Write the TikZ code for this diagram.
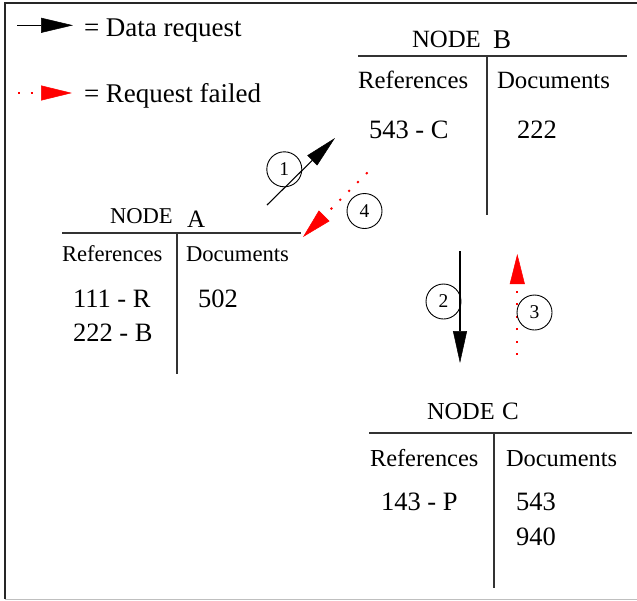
\documentclass[tikz,border=0pt]{standalone}
\usepackage{fontspec}
\setmainfont{Liberation Serif}
\usetikzlibrary{arrows.meta}
\begin{document}
\begin{tikzpicture}[x=1pt,y=-1pt,
  txt/.style={anchor=base west, inner sep=0pt, outer sep=0pt},
  legendtxt/.style={txt, font=\fontsize{27}{32}\selectfont},
  datatxt/.style={txt, font=\fontsize{26.5}{30}\selectfont},
  headA/.style={txt, font=\fontsize{22.6}{27}\selectfont},
  headB/.style={txt, font=\fontsize{24.8}{29}\selectfont},
  headC/.style={txt, font=\fontsize{24.4}{29}\selectfont},
  tableline/.style={line width=1.3pt, black!80},
  numcircle/.style={circle, draw, line width=0.9pt, minimum size=35pt, inner sep=0pt, font=\fontsize{19.5}{22}\selectfont},
  reqarrow/.style={line width=1.1pt, -{Triangle[length=32pt,width=14pt,line width=0.5pt]}},
  failarrow/.style={red, line width=2pt, dash pattern=on 2pt off 10.5pt, -{Triangle[length=30pt,width=15pt,line width=0.5pt]}},
  legarrow/.style={line width=1.1pt, -{Triangle[length=32pt,width=15pt,line width=0.5pt]}},
  legfail/.style={red, line width=2pt, dash pattern=on 2pt off 10.5pt, -{Triangle[length=31pt,width=15pt,line width=0.5pt]}}]
\useasboundingbox (0,0) rectangle (637,600);
% frame
\draw[line width=2pt, black!85] (637,2.5) -- (5,2.5) -- (5,599);
\draw[line width=1.5pt, black!25] (5,599.3) -- (637,599.3);

% legend
\coordinate (l1s) at (17,25.3);
\coordinate (l1e) at (73,25.3);
\draw[legarrow] (l1s) -- (l1e);
\node[legendtxt] (leg1) at (84,36) {= Data request};
\coordinate (l2s) at (18,93);
\coordinate (l2e) at (72,93);
\draw[legfail] (l2s) -- (l2e);
\node[legendtxt] (leg2) at (84,102) {= Request failed};

% NODE B
\node[headB] (nbname) at (412,47) {NODE};
\node[txt, font=\fontsize{27}{30}\selectfont] (nbletter) at (493,48) {B};
\coordinate (bh1) at (358,56);
\coordinate (bh2) at (627,56);
\coordinate (bv1) at (487,56);
\coordinate (bv2) at (487,215);
\draw[tableline] (bh1) -- (bh2);
\draw[tableline] (bv1) -- (bv2);
\node[headB] (bref) at (358,88) {References};
\node[headB] (bdoc) at (497,88) {Documents};
\node[datatxt] (bref1) at (369,138) {543 - C};
\node[datatxt] (bdoc1) at (517,138) {222};

% NODE A
\node[headA] (naname) at (110,223) {NODE};
\node[txt, font=\fontsize{25}{28}\selectfont] (naletter) at (187,227) {A};
\coordinate (ah1) at (62,233);
\coordinate (ah2) at (301,233);
\coordinate (av1) at (177,233);
\coordinate (av2) at (177,374);
\draw[tableline] (ah1) -- (ah2);
\draw[tableline] (av1) -- (av2);
\node[headA] (aref) at (62,261) {References};
\node[headA] (adoc) at (186,261) {Documents};
\node[datatxt] (aref1) at (73,307) {111 - R};
\node[datatxt] (aref2) at (73,341) {222 - B};
\node[datatxt] (adoc1) at (198,307) {502};

% NODE C
\node[headC] (ncname) at (427,419) {NODE};
\node[txt, font=\fontsize{25}{28}\selectfont] (ncletter) at (502,419) {C};
\coordinate (ch1) at (369,433);
\coordinate (ch2) at (632,433);
\coordinate (cv1) at (494,433);
\coordinate (cv2) at (494,588);
\draw[tableline] (ch1) -- (ch2);
\draw[tableline] (cv1) -- (cv2);
\node[headC] (cref) at (370,466) {References};
\node[headC] (cdoc) at (506,466) {Documents};
\node[datatxt] (cref1) at (381,510) {143 - P};
\node[datatxt] (cdoc1) at (516,510) {543};
\node[datatxt] (cdoc2) at (516,545) {940};

% arrows
\coordinate (a1s) at (267,205);
\coordinate (a1e) at (335,138);
\draw[reqarrow] (a1s) -- (a1e);
\node[numcircle] (n1) at (284.3,169.3) {1};

\coordinate (a2s) at (460,251);
\coordinate (a2e) at (460,363);
\draw[reqarrow] (a2s) -- (a2e);
\node[numcircle] (n2) at (443.5,301.5) {2};

\coordinate (a3s) at (517.3,355);
\coordinate (a3e) at (517.3,254);
\draw[failarrow] (a3s) -- (a3e);
\node[numcircle] (n3) at (534.5,312.5) {3};

\coordinate (a4s) at (367.5,172.5);
\coordinate (a4e) at (303,237);
\draw[failarrow] (a4s) -- (a4e);
\node[numcircle] (n4) at (364.5,211) {4};
\end{tikzpicture}
\end{document}
